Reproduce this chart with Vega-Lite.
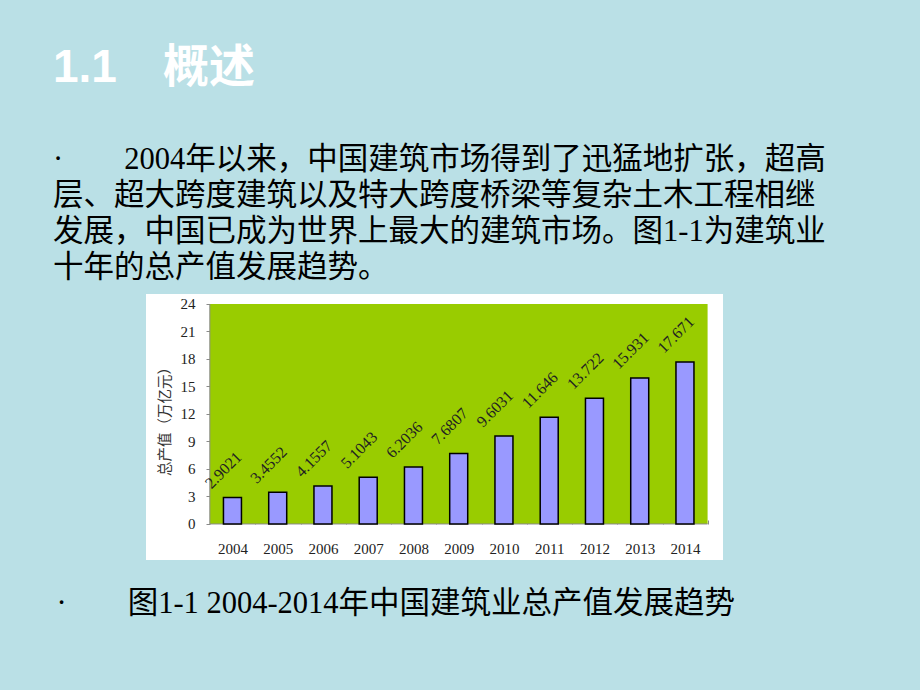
{
  "$schema": "https://vega.github.io/schema/vega-lite/v6.json",
  "width": 577,
  "height": 266,
  "autosize": {"type": "none"},
  "padding": {"left": 146, "top": 294, "right": 197, "bottom": 130},
  "background": "#BAE0E6",
  "view": {"fill": "#FFFFFF", "stroke": null},
  "config": {
    "axis": {"labelOverlap": false, "labelFlush": false, "labelBound": false}
  },
  "title": {
    "text": "1.1\u3000概述",
    "subtitle": [
      "·\u3000\u30002004年以来，中国建筑市场得到了迅猛地扩张，超高",
      "层、超大跨度建筑以及特大跨度桥梁等复杂土木工程相继",
      "发展，中国已成为世界上最大的建筑市场。图1-1为建筑业",
      "十年的总产值发展趋势。"
    ],
    "anchor": "start",
    "frame": "group",
    "dx": -93,
    "font": "Liberation Sans, Noto Sans CJK SC",
    "fontSize": 46,
    "fontWeight": "bold",
    "color": "#FFFFFF",
    "subtitleFont": "Liberation Serif, Noto Sans CJK SC",
    "subtitleFontSize": 30.5,
    "subtitleFontWeight": "normal",
    "subtitleColor": "#000000",
    "subtitleLineHeight": 36,
    "subtitlePadding": 53,
    "offset": 10
  },
  "data": {
    "values": [
      {"year": 2004, "value": 2.9021},
      {"year": 2005, "value": 3.4552},
      {"year": 2006, "value": 4.1557},
      {"year": 2007, "value": 5.1043},
      {"year": 2008, "value": 6.2036},
      {"year": 2009, "value": 7.6807},
      {"year": 2010, "value": 9.6031},
      {"year": 2011, "value": 11.646},
      {"year": 2012, "value": 13.722},
      {"year": 2013, "value": 15.931},
      {"year": 2014, "value": 17.671}
    ]
  },
  "layer": [
    {
      "data": {"values": [{}]},
      "mark": {"type": "rect", "fill": "#99CC00"},
      "encoding": {
        "x": {"datum": 2003.5, "type": "quantitative"},
        "x2": {"datum": 2014.5},
        "y": {"datum": 0, "type": "quantitative"},
        "y2": {"datum": 24}
      }
    },
    {
      "data": {"values": [{}]},
      "mark": {"type": "rule", "color": "#8A8A8A", "strokeWidth": 1},
      "encoding": {
        "x": {"datum": 2003.5, "type": "quantitative"},
        "y": {"datum": 0, "type": "quantitative"},
        "y2": {"datum": 24}
      }
    },
    {
      "data": {"values": [{}]},
      "mark": {"type": "rule", "color": "#8A8A8A", "strokeWidth": 1},
      "encoding": {
        "x": {"datum": 2003.5, "type": "quantitative"},
        "x2": {"datum": 2014.5},
        "y": {"datum": 0, "type": "quantitative"}
      }
    },
    {
      "mark": {"type": "bar", "size": 18, "fill": "#9999FF", "stroke": "#000000", "strokeWidth": 1.5},
      "encoding": {
        "x": {
          "field": "year",
          "type": "quantitative",
          "scale": {"domain": [2002.2, 2014.73], "nice": false, "zero": false},
          "axis": {
            "values": [2004, 2005, 2006, 2007, 2008, 2009, 2010, 2011, 2012, 2013, 2014],
            "tickCount": 30,
            "format": "d",
            "offset": -36,
            "domain": false,
            "grid": false,
            "tickOffset": 23,
            "labelOffset": -23,
            "tickSize": -4,
            "tickColor": "#8A8A8A",
            "labelPadding": 21,
            "labelFlush": false,
            "labelOverlap": false,
            "labelFont": "Liberation Serif",
            "labelFontSize": 15,
            "labelColor": "#222222",
            "title": "·\u3000\u3000图1-1 2004-2014年中国建筑业总产值发展趋势",
            "titleX": -90,
            "titleY": 79,
            "titleAnchor": "start",
            "titleAlign": "left",
            "titleBaseline": "middle",
            "titleFont": "Liberation Serif, Noto Sans CJK SC",
            "titleFontSize": 30.5,
            "titleFontWeight": "normal",
            "titleColor": "#000000"
          }
        },
        "y": {
          "field": "value",
          "type": "quantitative",
          "scale": {"domain": [-3.93, 25.09], "nice": false, "zero": false},
          "axis": {
            "values": [0, 3, 6, 9, 12, 15, 18, 21, 24],
            "tickCount": 30,
            "offset": -60,
            "domain": false,
            "grid": false,
            "tickSize": -4,
            "tickColor": "#8A8A8A",
            "labelPadding": 15,
            "labelFlush": false,
            "labelOverlap": false,
            "labelFont": "Liberation Serif",
            "labelFontSize": 15,
            "labelColor": "#222222",
            "title": "总产值（万亿元）",
            "titleX": -41,
            "titleY": 123.5,
            "titleAngle": -90,
            "titleAlign": "center",
            "titleBaseline": "middle",
            "titleFont": "Noto Sans CJK SC",
            "titleFontSize": 14.5,
            "titleFontWeight": "normal",
            "titleColor": "#333333"
          }
        }
      }
    },
    {
      "mark": {
        "type": "text",
        "angle": -45,
        "align": "left",
        "baseline": "alphabetic",
        "xOffset": -21,
        "yOffset": -8,
        "font": "Liberation Serif",
        "fontSize": 16,
        "color": "#222222"
      },
      "encoding": {
        "x": {"field": "year", "type": "quantitative"},
        "y": {"field": "value", "type": "quantitative"},
        "text": {"field": "value", "type": "nominal"}
      }
    }
  ]
}
